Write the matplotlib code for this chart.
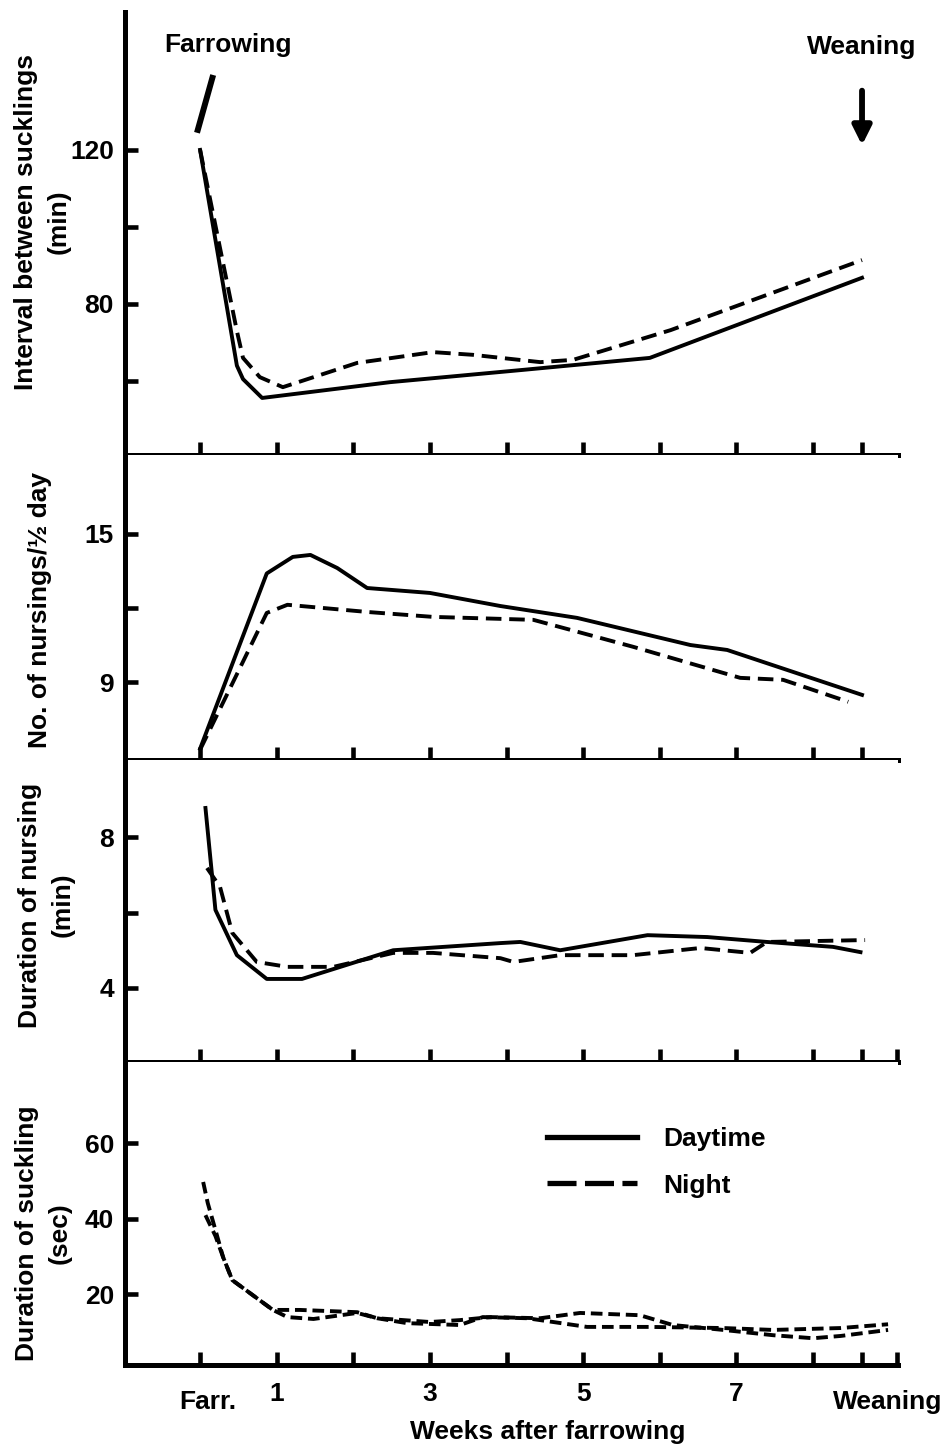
import matplotlib
matplotlib.use('Agg')
import matplotlib.pyplot as plt
from matplotlib.lines import Line2D
from matplotlib.transforms import blended_transform_factory

plt.rcParams['font.family'] = ['Liberation Sans', 'DejaVu Sans']
plt.rcParams['font.weight'] = 'bold'
plt.rcParams['font.size'] = 19

# semanas despues del parto (0 = parto, 8.64 = destete)
ticks_x = [0, 1, 2, 3, 4, 5, 6, 7, 8, 8.64]
etiquetas_x = ['', '1', '', '3', '', '5', '', '7', '', '']
destete = 8.64

# intervalo entre mamadas (min)
int_dia_x = [0, 0.48, 0.56, 0.81, 2.48, 4.22, 5.87, 8.64]
int_dia_y = [120, 64, 60.5, 55.6, 59.7, 62.9, 66.0, 86.8]
int_noche_x = [0, 0.48, 0.56, 0.78, 1.08, 2.05, 3.04, 3.56, 4.44, 4.87, 6.14, 8.64]
int_noche_y = [120, 73, 66, 61, 58.4, 64.7, 67.5, 66.8, 64.9, 65.5, 73.2, 91.4]
marca_parto_x = [-0.03, 0.16]
marca_parto_y = [125.2, 138.7]

# numero de amamantamientos por medio dia
num_dia_x = [0, 0.87, 1.21, 1.44, 1.79, 2.18, 3.0, 3.92, 4.92, 6.4, 6.88, 8.64]
num_dia_y = [6.3, 13.4, 14.07, 14.15, 13.62, 12.81, 12.61, 12.08, 11.6, 10.5, 10.3, 8.48]
num_noche_x = [0, 0.87, 1.14, 2.18, 3.04, 3.92, 4.35, 5.65, 7.05, 7.61, 8.46]
num_noche_y = [6.26, 11.8, 12.13, 11.84, 11.64, 11.56, 11.52, 10.43, 9.17, 9.09, 8.2]

# duracion del amamantamiento (min)
dur_dia_x = [0.07, 0.2, 0.48, 0.87, 1.33, 2.52, 3.92, 4.18, 4.7, 5.84, 6.62, 7.4, 8.26, 8.62]
dur_dia_y = [8.77, 6.07, 4.87, 4.24, 4.24, 5.0, 5.19, 5.22, 5.0, 5.4, 5.35, 5.22, 5.09, 4.95]
dur_noche_x = [0.09, 0.26, 0.42, 0.74, 1.14, 1.74, 2.52, 3.04, 3.92, 4.09, 4.7, 5.65, 6.53, 7.18, 7.4, 8.68]
dur_noche_y = [7.18, 6.68, 5.46, 4.69, 4.56, 4.56, 4.93, 4.93, 4.79, 4.69, 4.87, 4.87, 5.06, 4.93, 5.22, 5.27]

# duracion de la succion (seg)
suc_dia_x = [0.07, 0.2, 0.3, 0.42, 0.95, 1.14, 1.48, 2.05, 2.31, 2.7, 3.39, 3.69, 4.27, 5.05, 5.87, 6.83, 7.48, 8.36, 8.98]
suc_dia_y = [40.9, 35.4, 29.8, 23.7, 15.8, 13.9, 13.4, 15.0, 13.6, 12.3, 11.8, 13.9, 13.6, 11.3, 11.3, 11.0, 10.5, 11.0, 12.0]
suc_noche_x = [0.04, 0.1, 0.2, 0.3, 0.42, 0.95, 1.3, 2.05, 2.31, 3.0, 3.39, 3.79, 4.44, 4.96, 5.74, 6.17, 6.83, 7.48, 8.0, 8.36, 8.98]
suc_noche_y = [49.7, 44.1, 37, 29.8, 23.7, 15.8, 15.8, 15.2, 13.6, 12.6, 13.1, 13.9, 13.6, 15.0, 14.4, 11.8, 10.5, 9.1, 8.3, 8.9, 10.5]

lw = 2.8
guion = (4, 2)

fig = plt.figure(figsize=(9.5, 14.48), dpi=100)
izq, ancho = 0.1316, 0.8137
ax1 = fig.add_axes([izq, 0.6858, ancho, 0.3059])
ax2 = fig.add_axes([izq, 0.4751, ancho, 0.2107])
ax3 = fig.add_axes([izq, 0.2666, ancho, 0.2085])
ax4 = fig.add_axes([izq, 0.0573, ancho, 0.2093])

for ax in [ax1, ax2, ax3, ax4]:
    ax.set_xlim(-0.98, 9.11)
    ax.spines['top'].set_visible(False)
    ax.spines['right'].set_visible(False)
    ax.spines['left'].set_linewidth(3.6)
    ax.spines['bottom'].set_linewidth(3.6)
    ax.tick_params(direction='in', length=9.5, width=3.3, pad=8, labelsize=19)
    ax.set_xticks(ticks_x)
    ax.set_xticklabels([])

# marca del final del eje en los paneles de abajo
for ax in [ax3, ax4]:
    ax.set_xticks(ticks_x + [9.09])

ax1.plot(int_dia_x, int_dia_y, c='black', lw=lw)
ax1.plot(int_noche_x, int_noche_y, c='black', lw=lw, dashes=guion)
ax1.plot(marca_parto_x, marca_parto_y, c='black', lw=4.3)
ax1.set_ylim(40.8, 155.8)
ax1.set_yticks([60, 80, 100, 120])
ax1.set_yticklabels(['', '80', '', '120'])
ax1.text(0.37, 147.3, 'Farrowing', ha='center', va='center')
ax1.text(destete, 146.8, 'Weaning', ha='center', va='center')
ax1.annotate('', xy=(destete, 120.5), xytext=(destete, 136.1),
             arrowprops=dict(arrowstyle='-|>', lw=4.2, color='black', mutation_scale=28))

ax2.plot(num_dia_x, num_dia_y, c='black', lw=lw)
ax2.plot(num_noche_x, num_noche_y, c='black', lw=lw, dashes=guion)
ax2.set_ylim(5.84, 18.2)
ax2.set_yticks([9, 12, 15])
ax2.set_yticklabels(['9', '', '15'])

ax3.plot(dur_dia_x, dur_dia_y, c='black', lw=lw)
ax3.plot(dur_noche_x, dur_noche_y, c='black', lw=lw, dashes=guion)
ax3.set_ylim(2.04, 10.04)
ax3.set_yticks([4, 6, 8])
ax3.set_yticklabels(['4', '', '8'])

ax4.plot(suc_dia_x, suc_dia_y, c='black', lw=lw, dashes=(3, 1.5))
ax4.plot(suc_noche_x, suc_noche_y, c='black', lw=lw, dashes=(3, 1.5))
ax4.set_ylim(1.2, 81.5)
ax4.set_yticks([20, 40, 60])
ax4.set_yticklabels(['20', '40', '60'])
ax4.set_xticklabels(etiquetas_x + [''])
ax4.tick_params(axis='x', pad=12)

trans = blended_transform_factory(ax4.transData, ax4.transAxes)
ax4.text(0.1, -0.122, 'Farr.', transform=trans, ha='center', va='center')
ax4.text(8.98, -0.122, 'Weaning', transform=trans, ha='center', va='center')
ax4.text(0.547, -0.221, 'Weeks after farrowing', transform=ax4.transAxes,
         ha='center', va='center')

leyenda = [Line2D([], [], c='black', lw=3.8),
           Line2D([], [], c='black', lw=3.8, dashes=(5.5, 1.6))]
ax4.legend(leyenda, ['Daytime', 'Night'], loc='upper left', bbox_to_anchor=(0.546, 0.785),
           frameon=False, borderpad=0, borderaxespad=0, handlelength=3.4,
           handletextpad=1.0, labelspacing=0.85, fontsize=19)

# titulos de los ejes y
fig.text(42 / 950, 1 - 222 / 1448, 'Interval between sucklings\n(min)', rotation=90,
         ha='center', va='center', multialignment='center', linespacing=1.45)
fig.text(40 / 950, 1 - 610 / 1448, 'No. of nursings/½ day', rotation=90,
         ha='center', va='center')
fig.text(46 / 950, 1 - 905 / 1448, 'Duration of nursing\n(min)', rotation=90,
         ha='center', va='center', multialignment='center', linespacing=1.45)
fig.text(43 / 950, 1 - 1233 / 1448, 'Duration of suckling\n(sec)', rotation=90,
         ha='center', va='center', multialignment='center', linespacing=1.45)

fig.savefig('out.png', dpi=100)
